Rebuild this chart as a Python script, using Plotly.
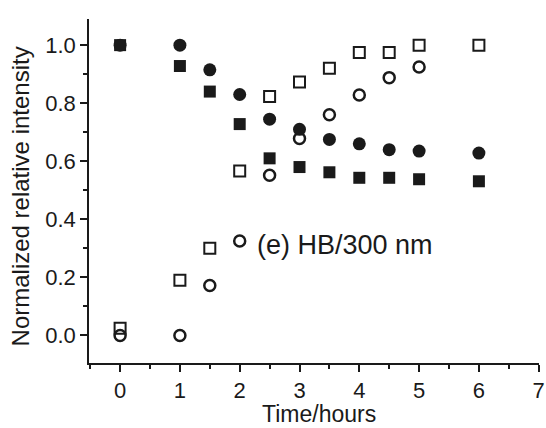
import plotly.graph_objects as go

# Data
time_main = [0, 1, 1.5, 2, 2.5, 3, 3.5, 4, 4.5, 5, 6]
filled_circles = [1.0, 1.0, 0.915, 0.83, 0.745, 0.71, 0.675, 0.66, 0.64, 0.635, 0.628]
filled_squares = [1.0, 0.928, 0.84, 0.728, 0.61, 0.58, 0.562, 0.543, 0.543, 0.538, 0.531]
open_squares = [0.025, 0.19, 0.30, 0.566, 0.823, 0.873, 0.92, 0.975, 0.975, 1.0, 1.0]
time_open_circles = [0, 1, 1.5, 2, 2.5, 3, 3.5, 4, 4.5, 5]
open_circles = [0.0, 0.0, 0.172, 0.325, 0.552, 0.678, 0.76, 0.828, 0.888, 0.925]

x_ticks = [0, 1, 2, 3, 4, 5, 6, 7]
y_ticks = [0.0, 0.2, 0.4, 0.6, 0.8, 1.0]
y_tick_labels = ["0.0", "0.2", "0.4", "0.6", "0.8", "1.0"]

label_text = "(e) HB/300 nm"
x_title = "Time/hours"
y_title = "Normalized relative intensity"

ink = "#1a1a1a"
FONT = "Liberation Sans, Arial, sans-serif"

fig = go.Figure()
fig.add_trace(go.Scatter(x=time_main, y=open_squares, mode="markers",
                         marker=dict(symbol="square-open", size=11, color=ink, line=dict(width=2, color=ink)),
                         showlegend=False))
fig.add_trace(go.Scatter(x=time_open_circles, y=open_circles, mode="markers",
                         marker=dict(symbol="circle-open", size=11, color=ink, line=dict(width=2.5, color=ink)),
                         showlegend=False))
fig.add_trace(go.Scatter(x=time_main, y=filled_squares, mode="markers",
                         marker=dict(symbol="square", size=12, color=ink, line=dict(width=0)),
                         showlegend=False))
fig.add_trace(go.Scatter(x=time_main, y=filled_circles, mode="markers",
                         marker=dict(symbol="circle", size=13, color=ink, line=dict(width=0)),
                         showlegend=False))

fig.add_annotation(x=2.25, y=0.312, xref="x", yref="y", text=label_text, showarrow=False,
                   xanchor="left", yanchor="middle", font=dict(family=FONT, size=27, color=ink))

# Axis titles placed as annotations for exact positioning
fig.add_annotation(x=0.51, y=-0.148, xref="paper", yref="paper", text=x_title, showarrow=False,
                   xanchor="center", yanchor="middle", font=dict(family=FONT, size=23, color=ink))
fig.add_annotation(x=-0.152, y=0.483, xref="paper", yref="paper", text=y_title, showarrow=False,
                   textangle=-90, xanchor="center", yanchor="middle",
                   font=dict(family=FONT, size=24, color=ink))

axis_common = dict(showline=True, linecolor=ink, linewidth=1.6, ticks="outside", ticklen=7,
                   tickwidth=1.5, tickcolor=ink, showgrid=False, zeroline=False, mirror=False,
                   tickfont=dict(family=FONT, size=22, color=ink), automargin=False)

fig.update_xaxes(range=[-0.52, 7.005], tickvals=x_ticks, ticktext=[str(v) for v in x_ticks],
                 ticklabeloverflow="allow",
                 minor=dict(dtick=0.5, tick0=0, ticks="outside", ticklen=4, tickwidth=1.5, tickcolor=ink, showgrid=False),
                 **axis_common)
fig.update_yaxes(range=[-0.095, 1.09], tickvals=y_ticks, ticktext=y_tick_labels,
                 minor=dict(dtick=0.1, tick0=0, ticks="outside", ticklen=4, tickwidth=1.5, tickcolor=ink, showgrid=False),
                 **axis_common)

fig.update_layout(width=546, height=428, margin=dict(l=89, r=7, t=19, b=65),
                  paper_bgcolor="white", plot_bgcolor="white")

fig.write_html("out.html")
